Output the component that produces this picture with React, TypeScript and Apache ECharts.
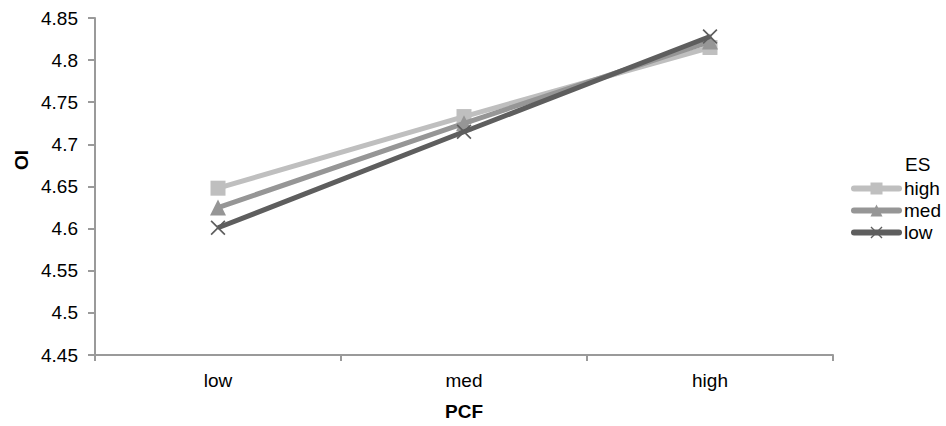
import React, { useEffect, useRef } from "react";
import * as echarts from "echarts";

const categories = ["low", "med", "high"];
const seriesNames = ["high", "med", "low"];
const highValues = [4.648, 4.733, 4.815];
const medValues = [4.625, 4.725, 4.822];
const lowValues = [4.601, 4.715, 4.828];
const yMin = 4.45;
const yMax = 4.85;
const yStep = 0.05;

const FONT = "'Liberation Sans', Arial, sans-serif";
const X_SYMBOL =
  "path://M0,0.8 L0.8,0 L5,4.2 L9.2,0 L10,0.8 L5.8,5 L10,9.2 L9.2,10 L5,5.8 L0.8,10 L0,9.2 L4.2,5 Z";

export default function App() {
  const ref = useRef<HTMLDivElement>(null);
  useEffect(() => {
    if (!ref.current) return;
    const chart = echarts.init(ref.current, undefined, { renderer: "svg" });
    const colors = ["#BFBFBF", "#969696", "#5E5E5E"];
    const data = [highValues, medValues, lowValues];
    const symbols = ["rect", "triangle", X_SYMBOL];
    const sizes = [15, 16, 15];
    chart.setOption({
      animation: false,
      textStyle: { fontFamily: FONT },
      grid: { left: 95, right: 113, top: 18, bottom: 68, containLabel: false },
      legend: {
        orient: "vertical",
        left: 851,
        top: 179,
        padding: 0,
        itemWidth: 45,
        itemHeight: 15,
        itemGap: 3,
        itemTextGap: 9,
        data: seriesNames,
        lineStyle: { width: 6, cap: "round" },
        textStyle: { fontFamily: FONT, fontSize: 19, color: "#000" },
      },
      graphic: [
        {
          type: "text",
          left: 905,
          top: 155,
          style: { text: "ES", font: `19px ${FONT}`, fill: "#000" },
        },
        {
          type: "text",
          x: 21,
          y: 160,
          rotation: Math.PI / 2,
          style: {
            text: "OI",
            font: `bold 19px ${FONT}`,
            fill: "#000",
            align: "center",
            verticalAlign: "middle",
          },
        },
      ],
      xAxis: {
        type: "category",
        data: categories,
        boundaryGap: true,
        name: "PCF",
        nameLocation: "middle",
        nameGap: 47,
        nameTextStyle: { fontFamily: FONT, fontSize: 19, fontWeight: "bold", color: "#000" },
        axisLine: { lineStyle: { color: "#9A9A9A", width: 2 } },
        axisTick: { show: true, length: 6, alignWithLabel: false, lineStyle: { color: "#9A9A9A", width: 2 } },
        axisLabel: { margin: 16, fontSize: 19, color: "#000", fontFamily: FONT },
        splitLine: { show: false },
      },
      yAxis: {
        type: "value",
        min: yMin,
        max: yMax,
        interval: yStep,
        axisLine: { show: true, lineStyle: { color: "#9A9A9A", width: 2 } },
        axisTick: { show: true, length: 7, lineStyle: { color: "#9A9A9A", width: 2 } },
        axisLabel: {
          margin: 17,
          fontSize: 19,
          color: "#000",
          fontFamily: FONT,
          formatter: (v: number) => String(parseFloat(v.toFixed(2))),
        },
        splitLine: { show: false },
      },
      series: seriesNames.map((name, i) => ({
        name,
        type: "line",
        data: data[i],
        symbol: symbols[i],
        symbolSize: sizes[i],
        symbolKeepAspect: true,
        showSymbol: true,
        lineStyle: { color: colors[i], width: 5 },
        itemStyle: { color: colors[i] },
        z: 2 + i,
      })),
    });
    return () => chart.dispose();
  }, []);
  return (
    <div
      ref={ref}
      style={{ position: "absolute", left: 0, top: 0, width: 946, height: 426 }}
    />
  );
}
